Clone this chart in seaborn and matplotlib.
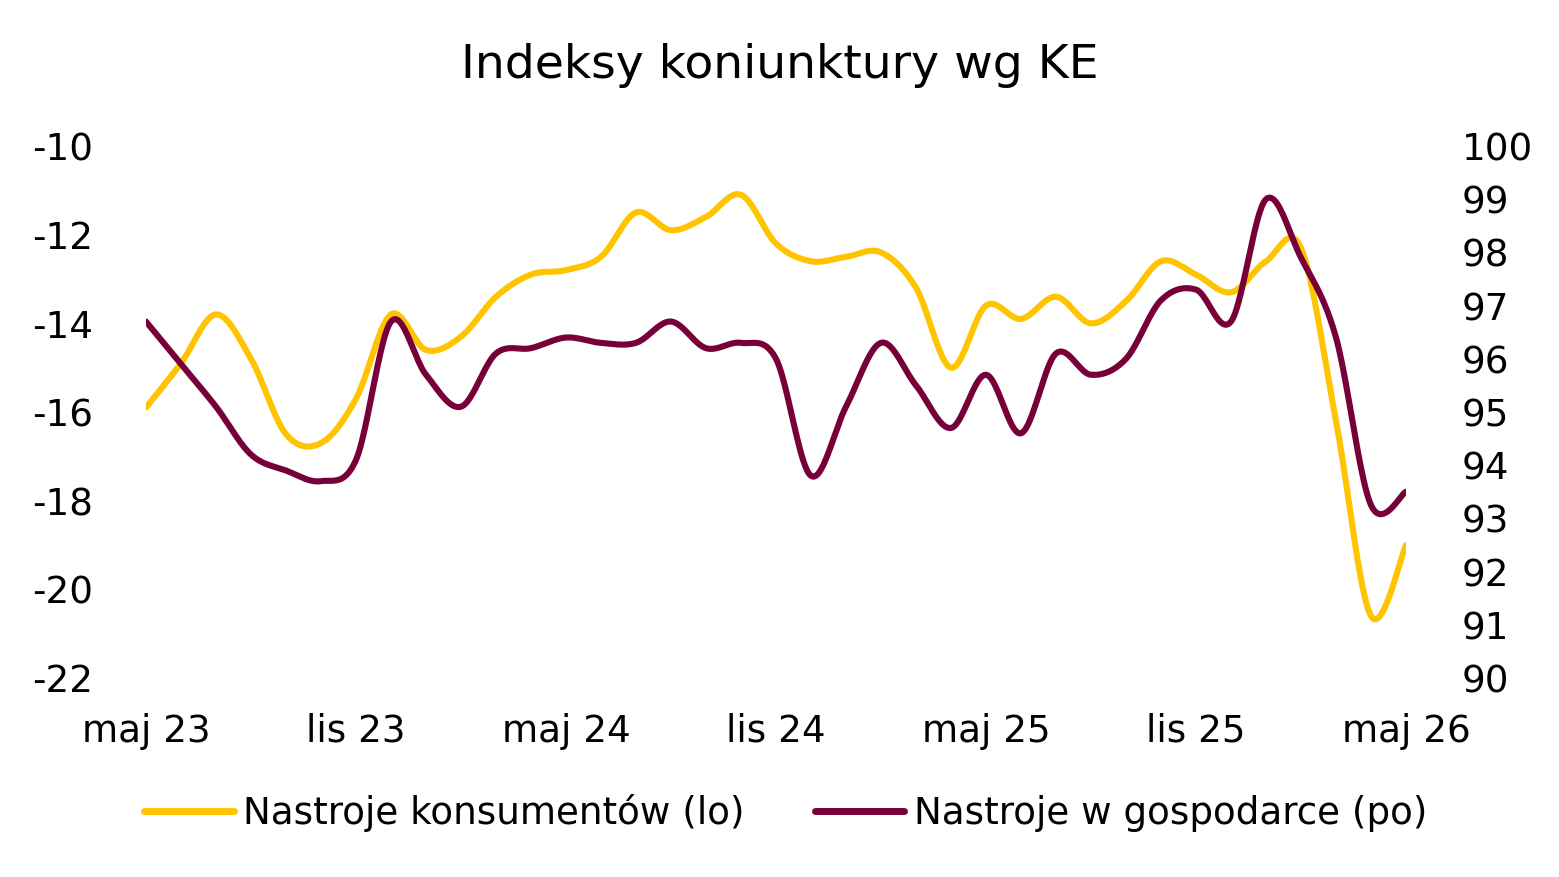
import numpy as np
import pandas as pd
import matplotlib
matplotlib.use("Agg")
import matplotlib.pyplot as plt
import seaborn as sns
from matplotlib.lines import Line2D

# ---- data ----
months = list(range(37))  # maj 23 .. maj 26
tick_pos = [0, 6, 12, 18, 24, 30, 36]
tick_labels = ["maj 23", "lis 23", "maj 24", "lis 24", "maj 25", "lis 25", "maj 26"]

consumer = [-15.9, -14.9, -13.8, -14.8, -16.5, -16.7, -15.7, -13.8, -14.6, -14.3,
            -13.4, -12.9, -12.8, -12.5, -11.5, -11.9, -11.6, -11.1, -12.2, -12.6,
            -12.5, -12.4, -13.2, -15.0, -13.6, -13.9, -13.4, -14.0, -13.5, -12.6,
            -12.9, -13.3, -12.6, -12.3, -16.2, -20.6, -19.0]
economy = [96.7, 95.9, 95.1, 94.2, 93.9, 93.7, 94.1, 96.7, 95.7, 95.1,
           96.1, 96.2, 96.4, 96.3, 96.3, 96.7, 96.2, 96.3, 96.0, 93.8,
           95.1, 96.3, 95.5, 94.7, 95.7, 94.6, 96.1, 95.7, 96.0, 97.1,
           97.3, 96.7, 99.0, 97.9, 96.4, 93.25, 93.5]

left_ticks = [-10, -12, -14, -16, -18, -20, -22]
right_ticks = [100, 99, 98, 97, 96, 95, 94, 93, 92, 91, 90]

title = "Indeksy koniunktury wg KE"
name_c = "Nastroje konsumentów (lo)"
name_e = "Nastroje w gospodarce (po)"

col_c = "#FFC400"
col_e = "#78003A"


def smooth(xs, ys, n=24):
    """Catmull-Rom rendering of a line through the points (Excel-style smoothed line)."""
    x = np.asarray(xs, float)
    y = np.asarray(ys, float)
    xp = np.concatenate([[x[0]], x, [x[-1]]])
    yp = np.concatenate([[y[0]], y, [y[-1]]])
    ox, oy = [], []
    for i in range(1, len(xp) - 2):
        t = np.linspace(0, 1, n, endpoint=False)
        for arr, out in ((xp, ox), (yp, oy)):
            p0, p1, p2, p3 = arr[i - 1], arr[i], arr[i + 1], arr[i + 2]
            out.extend(0.5 * ((2 * p1) + (-p0 + p2) * t +
                              (2 * p0 - 5 * p1 + 4 * p2 - p3) * t ** 2 +
                              (-p0 + 3 * p1 - 3 * p2 + p3) * t ** 3))
    ox.append(x[-1]); oy.append(y[-1])
    return np.array(ox), np.array(oy)


sns.set_theme(style="white")
plt.rcParams["font.family"] = ["DejaVu Sans"]
plt.rcParams["text.color"] = "black"
plt.rcParams["xtick.color"] = "black"
plt.rcParams["ytick.color"] = "black"
plt.rcParams["xtick.labelcolor"] = "black"
plt.rcParams["ytick.labelcolor"] = "black"
FS = 26.8

W, H = 1559, 877
fig = plt.figure(figsize=(W / 100, H / 100), dpi=100)
ax = fig.add_axes([146 / W, 1 - 678 / H, (1406 - 146) / W, (678 - 146) / H])
ax2 = ax.twinx()

cx, cy = smooth(months, consumer)
ex, ey = smooth(months, economy)
dc = pd.DataFrame({"x": cx, "y": cy})
de = pd.DataFrame({"x": ex, "y": ey})

sns.lineplot(data=dc, x="x", y="y", ax=ax, color=col_c, lw=4.4, sort=False,
             estimator=None, solid_capstyle="round")
sns.lineplot(data=de, x="x", y="y", ax=ax2, color=col_e, lw=4.4, sort=False,
             estimator=None, solid_capstyle="round")

ax.set_xlim(0, 36)
ax.set_ylim(-22, -10)
ax2.set_ylim(90, 100)

ax.set_xticks(tick_pos)
ax.set_xticklabels(tick_labels, fontsize=FS, color="black")
ax.set_yticks(left_ticks)
ax.set_yticklabels([str(v) for v in left_ticks], fontsize=FS, color="black")
ax2.set_yticks(right_ticks)
ax2.set_yticklabels([str(v) for v in right_ticks], fontsize=FS, color="black")

ax.tick_params(axis="x", length=0, pad=25)
ax.tick_params(axis="y", length=0, pad=38)
ax2.tick_params(axis="y", length=0, pad=40)

for a in (ax, ax2):
    a.set_xlabel("")
    a.set_ylabel("")
    a.grid(False)
    for s in a.spines.values():
        s.set_visible(False)

fig.text(0.5, 1 - 65 / H, title, ha="center", va="center", fontsize=34, color="black")

handles = [Line2D([0], [0], color=col_c, lw=5, solid_capstyle="round"),
           Line2D([0], [0], color=col_e, lw=5, solid_capstyle="round")]
fig.legend(handles, [name_c, name_e], loc="center", bbox_to_anchor=(0.504, 1 - 813 / H),
           ncol=2, frameon=False, fontsize=FS, handlelength=2.4, handletextpad=0.25,
           columnspacing=1.9, labelcolor="black")

fig.savefig("out.png", dpi=100, facecolor="white")
